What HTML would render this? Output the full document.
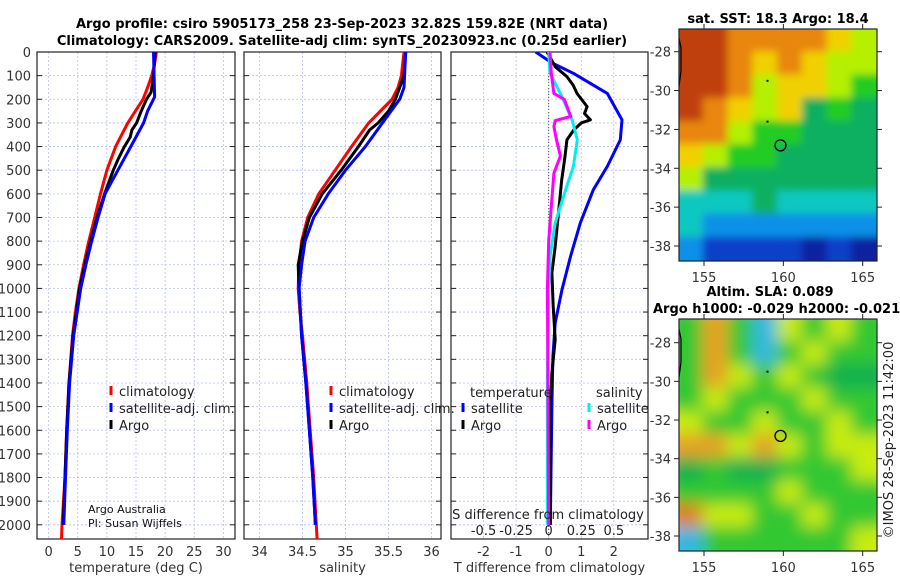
<!DOCTYPE html>
<html><head><meta charset="utf-8">
<style>
html,body{margin:0;padding:0;background:#fff;}
svg{display:block;font-family:"DejaVu Sans","Liberation Sans",sans-serif;}
</style></head>
<body>
<svg id="fig" width="900" height="580" viewBox="0 0 900 580">
<defs>
<filter id="blurA" x="0" y="0" width="1" height="1"><feGaussianBlur stdDeviation="4"/></filter>
<filter id="blurB" x="0" y="0" width="1" height="1"><feGaussianBlur stdDeviation="8"/></filter>
<clipPath id="clipTop"><rect x="679" y="29" width="198" height="232"/></clipPath>
<clipPath id="clipBot"><rect x="679" y="319" width="198" height="232"/></clipPath>
<clipPath id="clipP1"><rect x="37" y="52" width="198" height="487"/></clipPath>
<clipPath id="clipP2"><rect x="244" y="52" width="197" height="487"/></clipPath>
<clipPath id="clipP3"><rect x="451" y="52" width="197" height="487"/></clipPath>
</defs>
<text x="342" y="28" text-anchor="middle" font-size="13" font-weight="bold">Argo profile: csiro 5905173_258 23-Sep-2023 32.82S 159.82E (NRT data)</text>
<text x="342" y="45" text-anchor="middle" font-size="13" font-weight="bold">Climatology: CARS2009. Satellite-adj clim: synTS_20230923.nc (0.25d earlier)</text>
<g id="layer"></g>
</svg>
<script>
// ---- Data ----
const tClimDepth=[0,50,100,150,200,250,300,400,500,600,700,800,900,1000,1100,1200,1400,1600,1800,2000,2060];
const tClim=[18.5,18.2,17.7,17.0,16.2,14.9,13.6,11.5,10.0,8.9,7.9,6.9,6.0,5.2,4.6,4.1,3.5,3.1,2.8,2.3,2.2];
const tSatDepth=[0,100,190,250,300,400,500,600,700,800,900,1000,1200,1400,1600,1800,2000];
const tSat=[18.0,18.1,18.2,17.0,16.3,14.1,11.9,9.7,8.5,7.4,6.4,5.5,4.3,3.6,3.2,2.9,2.6];
const tArgoDepth=[0,100,170,200,250,300,330,360,400,450,500,600,700,800,900,1000,1200,1400,1600,1800,2000];
const tArgo=[18.3,18.0,17.6,16.8,15.9,15.1,14.3,14.0,13.0,12.0,11.1,9.6,8.3,7.2,6.2,5.3,4.2,3.5,3.1,2.8,2.5];
const sClimDepth=[0,100,150,200,300,400,500,600,700,800,900,1000,1100,1200,1400,1600,1800,2000,2060];
const sClim=[35.68,35.65,35.61,35.54,35.27,35.07,34.88,34.69,34.56,34.49,34.46,34.45,34.47,34.5,34.55,34.59,34.63,34.66,34.67];
const sSatDepth=[0,150,200,300,400,500,600,700,800,900,1000,1200,1400,1600,1800,2000];
const sSat=[35.7,35.68,35.63,35.43,35.23,35.0,34.8,34.63,34.53,34.49,34.46,34.49,34.54,34.58,34.62,34.65];
const sArgoDepth=[0,100,180,200,250,300,330,400,450,500,600,700,800,900,1000,1200,1400,1600,1800,2000];
const sArgo=[35.7,35.68,35.6,35.58,35.5,35.38,35.28,35.15,35.05,34.95,34.73,34.58,34.5,34.45,34.46,34.49,34.54,34.58,34.62,34.65];
const dTSatDepth=[0,46,90,175,287,372,484,583,723,865,1005,1146,1287,1498,2000];
const dTSat=[-0.4,0.1,0.76,1.8,2.25,2.2,1.8,1.37,0.97,0.67,0.41,0.2,0.13,0.1,0.05];
const dTArgoDepth=[0,62,104,140,175,231,260,287,300,330,372,442,541,681,822,935,1076,1217,1357,1500,2000];
const dTArgo=[-0.05,0.2,0.56,0.75,0.87,1.18,1.1,1.28,1.0,0.77,0.56,0.5,0.4,0.3,0.2,0.1,0.14,0.2,0.1,0.05,0.05];
const dSSatDepth=[0,90,175,287,372,484,583,723,865,1005,1400,2000];
const dSSat=[0,0.01,0.09,0.18,0.22,0.19,0.13,0.05,0.01,0,-0.01,-0.01];
const dSArgoDepth=[0,90,175,200,273,290,316,372,440,513,653,800,1000,2000];
const dSArgo=[0.01,0.02,0.04,0.12,0.17,0.05,0.04,0.06,0.09,0.04,0.02,0.0,-0.01,0.0];
const depthTicks=[0,100,200,300,400,500,600,700,800,900,1000,1100,1200,1300,1400,1500,1600,1700,1800,1900,2000];
const tTicks=[0,5,10,15,20,25,30];
const sTicks=[34,34.5,35,35.5,36];
const dTTicks=[-2,-1,0,1,2];
const dSTicks=[-0.5,-0.25,0,0.25,0.5];
const latTicks=[-28,-30,-32,-34,-36,-38];
const lonTicks=[155,160,165];
const profileLon=159.82, profileLat=-32.82;
const sstGrid=["OOooooyY","OOoyoyYY","OOoYyyYg","OoyYyGgG","ooYggGGG","yYggGGGG","YGGGGGGG","cccGcccc","cbbbbbbb","bBBBBDBD"];
const slaGrid=["gogcYgYg","gogcgYgg","goYgYgGG","gYgggYgg","YggYggYg","ooYoYgYY","GgGGgggY","ggggYggg","OYYggYgg","cggggggY"];
// ---- Helpers ----
const NS="http://www.w3.org/2000/svg";
const layer=document.getElementById('layer');
function mk(tag,attrs,parent){const e=document.createElementNS(NS,tag);for(const k in attrs)e.setAttribute(k,attrs[k]);(parent||layer).appendChild(e);return e;}
const Y0=52,Y1=539,DMAX=2060;
const yD=d=>Y0+d/DMAX*(Y1-Y0);
function lin(d0,d1,r0,r1){return v=>r0+(v-d0)/(d1-d0)*(r1-r0);}
const panels=[
 {x0:37,x1:235,sc:lin(-2,32,37,235),ticks:tTicks,title:"temperature (deg C)",clip:"clipP1",name:"temperature-panel"},
 {x0:244,x1:441,sc:lin(33.82,36.11,244,441),ticks:sTicks,title:"salinity",clip:"clipP2",name:"salinity-panel"},
 {x0:451,x1:648,sc:lin(-3.0,3.05,451,648),ticks:dTTicks,title:"T difference from climatology",clip:"clipP3",name:"difference-panel"}
];
const sS=lin(-0.75,0.7625,451,648);
panels.forEach((p,i)=>{
 const g=mk('g',{});
 
 
 p.ticks.forEach(t=>{const x=p.sc(t);
  mk('line',{x1:x,x2:x,y1:Y0,y2:Y1,stroke:'#b8c0e8','stroke-width':0.8,'stroke-dasharray':'2,2'},g);
  const lb=mk('text',{x:x,y:556,'text-anchor':'middle','font-size':13,fill:'#333'},g);lb.textContent=String(t);
  
  
 });
 depthTicks.forEach(d=>{const y=yD(d);
  mk('line',{x1:p.x0,x2:p.x1,y1:y,y2:y,stroke:'#b8c0e8','stroke-width':0.8,'stroke-dasharray':'2,2'},g);
  mk('line',{x1:p.x0,x2:p.x0+5,y1:y,y2:y,stroke:'#222','stroke-width':1},g);
  mk('line',{x1:p.x1-5,x2:p.x1,y1:y,y2:y,stroke:'#222','stroke-width':1},g);
 });
 mk('rect',{x:p.x0,y:Y0,width:p.x1-p.x0,height:Y1-Y0,fill:'none',stroke:'#222','stroke-width':1.2},g);
 const t=mk('text',{x:(p.x0+p.x1)/2,y:572,'text-anchor':'middle','font-size':13,fill:'#333'},g);t.textContent=p.title;
 
 
});
depthTicks.forEach(d=>{const lb=mk('text',{x:31,y:yD(d)+5,'text-anchor':'end','font-size':13,fill:'#333'});lb.textContent=String(d);
 
 
});
mk('line',{x1:sS(0),x2:sS(0),y1:Y0,y2:Y1,stroke:'#555','stroke-width':1,'stroke-dasharray':'1,2'});
function series(vals,depths,sc,color,w,clip,name){
 const pts=vals.map((v,i)=>sc(v).toFixed(1)+','+yD(depths[i]).toFixed(1)).join(' ');
 const e=mk('polyline',{points:pts,fill:'none',stroke:color,'stroke-width':w,'stroke-linejoin':'round','clip-path':'url(#'+clip+')'});
 
 
}
series(tClim,tClimDepth,panels[0].sc,'#f00',3,'clipP1','temperature-climatology-line');
series(tArgo,tArgoDepth,panels[0].sc,'#000',3,'clipP1','temperature-argo-line');
series(tSat,tSatDepth,panels[0].sc,'#00f',3,'clipP1','temperature-satellite-line');
series(sClim,sClimDepth,panels[1].sc,'#f00',3,'clipP2','salinity-climatology-line');
series(sArgo,sArgoDepth,panels[1].sc,'#000',3,'clipP2','salinity-argo-line');
series(sSat,sSatDepth,panels[1].sc,'#00f',3,'clipP2','salinity-satellite-line');
series(dTSat,dTSatDepth,panels[2].sc,'#00f',3,'clipP3','tdiff-satellite-line');
series(dTArgo,dTArgoDepth,panels[2].sc,'#000',3,'clipP3','tdiff-argo-line');
series(dSSat,dSSatDepth,sS,'#0ee',3,'clipP3','sdiff-satellite-line');
series(dSArgo,dSArgoDepth,sS,'#f0f',3,'clipP3','sdiff-argo-line');
const st=mk('text',{x:548,y:519,'text-anchor':'middle','font-size':13,fill:'#222'});st.textContent="S difference from climatology";


dSTicks.forEach(t=>{const lb=mk('text',{x:sS(t),y:535,'text-anchor':'middle','font-size':13,fill:'#222'});lb.textContent=String(t);
 
 
});
function legend(x,y,color,label,name){
 mk('line',{x1:x,x2:x,y1:y-10,y2:y-1,stroke:color,'stroke-width':3});
 const t=mk('text',{x:x+8,y:y,'font-size':13,fill:'#222'});t.textContent=label;
 
 
}
[[111],[331]].forEach(([x],i)=>{
 legend(x,396,'#f00','climatology','legend-climatology');
 legend(x,413,'#00f','satellite-adj. clim.','legend-satellite-adj');
 legend(x,430,'#000','Argo','legend-argo');
});
const lt1=mk('text',{x:470,y:397,'font-size':13,fill:'#222'});lt1.textContent='temperature';


const lt2=mk('text',{x:596,y:397,'font-size':13,fill:'#222'});lt2.textContent='salinity';


legend(463,413,'#00f','satellite','legend-t-satellite');
legend(463,430,'#000','Argo','legend-t-argo');
legend(589,413,'#0ee','satellite','legend-s-satellite');
legend(589,430,'#f0f','Argo','legend-s-argo');
const a1=mk('text',{x:88,y:513,'font-size':11,fill:'#111'});a1.textContent='Argo Australia';


const a2=mk('text',{x:88,y:527,'font-size':11,fill:'#111'});a2.textContent='PI: Susan Wijffels';


// ---- Maps ----
const lonSc=v=>704+(v-155)*15.87;
const colors={O:'#c04010',o:'#e8860c',y:'#f0d000',Y:'#b4f000',g:'#20cc20',G:'#10b060',c:'#10c8c0',b:'#1090e8',B:'#1040c8',D:'#0820a0'};
const slaColors={g:'#30c830',G:'#10b050',Y:'#c8ec10',y:'#e8e000',o:'#e8a020',O:'#e08018',c:'#30b8e0'};
function map(top,grid,cmap,clip,blur,name,latY){
 const g=mk('g',{'clip-path':'url(#'+clip+')'});
 
 
 const inner=mk('g',{filter:'url(#'+blur+')'},g);
 const cw=198/8,ch=232/10;
 mk('rect',{x:669,y:top-10,width:218,height:252,fill:cmap[grid[5][4]]},inner);
 grid.forEach((row,r)=>{[...row].forEach((c,k)=>{
  let x=679+k*cw-1,y=top+r*ch-1,w=cw+2,h=ch+2;
  if(k===0){x-=12;w+=12;} if(k===7){w+=12;} if(r===0){y-=12;h+=12;} if(r===9){h+=12;}
  mk('rect',{x:x,y:y,width:w,height:h,fill:cmap[c]},inner);});});
 mk('path',{d:`M679,${latY(-27.3)} L681,${latY(-27.8)} L681,${latY(-29)} L679,${latY(-29.8)}`,fill:'none',stroke:'#000','stroke-width':1.2},g);
 mk('rect',{x:lonSc(159)-1,y:latY(-29.5)-1,width:2,height:2,fill:'#000'},g);
 mk('rect',{x:lonSc(159)-1,y:latY(-31.6)-1,width:2,height:2,fill:'#000'},g);
 const m=mk('circle',{cx:lonSc(profileLon),cy:latY(profileLat),r:5.5,fill:'none',stroke:'#000','stroke-width':1.3},g);
 
 
 mk('rect',{x:679,y:top,width:198,height:232,fill:'none',stroke:'#222','stroke-width':1.2});
 latTicks.forEach(t=>{const y=latY(t);
  mk('line',{x1:679,x2:674,y1:y,y2:y,stroke:'#222'});mk('line',{x1:877,x2:882,y1:y,y2:y,stroke:'#222'});
  const lb=mk('text',{x:671,y:y+5,'text-anchor':'end','font-size':13,fill:'#333'});lb.textContent=String(t);
  
  
 });
 lonTicks.forEach(t=>{const x=lonSc(t);
  mk('line',{x1:x,x2:x,y1:top+232,y2:top+237,stroke:'#222'});mk('line',{x1:x,x2:x,y1:top,y2:top-5,stroke:'#222'});
  const lb=mk('text',{x:x,y:top+253,'text-anchor':'middle','font-size':13,fill:'#333'});lb.textContent=String(t);
  
  
 });
}
map(29,sstGrid,colors,'clipTop','blurA',"sst-map",v=>51.7+(-28-v)*19.43);
map(319,slaGrid,slaColors,'clipBot','blurB',"sla-map",v=>342.7+(-28-v)*19.33);
function title(x,y,txt,name){const t=mk('text',{x:x,y:y,'text-anchor':'middle','font-size':13,'font-weight':'bold'});t.textContent=txt;
 
 }
title(778,23,'sat. SST: 18.3 Argo: 18.4','sst-map-title');
title(770,296,'Altim. SLA: 0.089','sla-map-title');
const t3=mk('text',{x:653,y:313,'font-size':13,'font-weight':'bold'});t3.textContent='Argo h1000: -0.029 h2000: -0.021';


const cp=mk('text',{x:0,y:0,'font-size':13,fill:'#222','text-anchor':'middle',transform:'translate(893,440) rotate(-90)'});cp.textContent='©IMOS 28-Sep-2023 11:42:00';


</script>
</body></html>
